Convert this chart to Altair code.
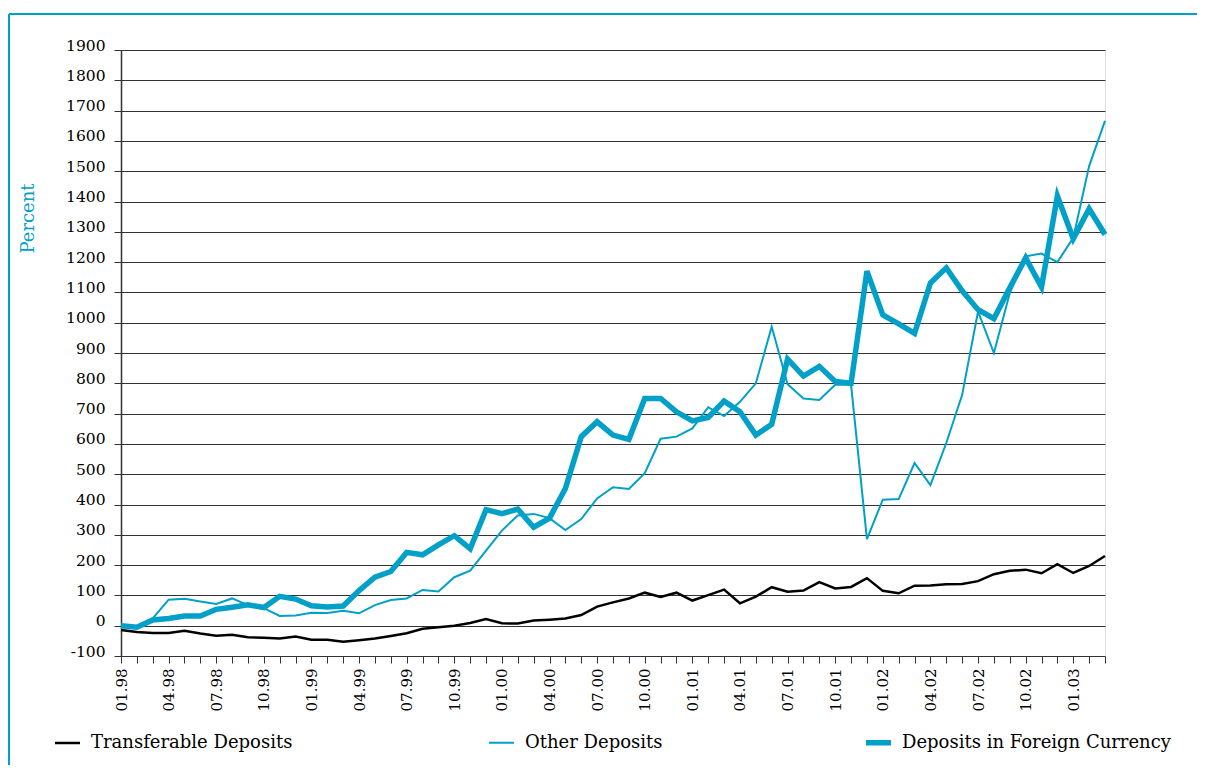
import altair as alt
import pandas as pd

CYAN = "#00A0C8"

months = [f"{m:02d}.{y:02d}" for y in [98, 99, 0, 1, 2, 3] for m in range(1, 13)][:63]

series_names = ["Transferable Deposits", "Other Deposits", "Deposits in Foreign Currency"]

transferable = [-14, -21, -24, -24, -17, -26, -33, -30, -38, -40, -42, -36, -46, -46, -53, -48,
                -42, -34, -25, -10, -5, 0, 9, 22, 8, 7, 17, 20, 24, 35, 63, 77, 90, 109, 95, 109,
                83, 101, 119, 74, 96, 127, 112, 116, 144, 123, 128, 157, 115, 107, 132, 133, 137,
                138, 147, 170, 181, 185, 173, 203, 174, 197, 230]

other = [2, -3, 24, 86, 89, 80, 72, 90, 68, 58, 32, 34, 43, 42, 49, 41, 68, 85, 90, 118, 113,
         160, 182, 248, 314, 364, 369, 355, 316, 352, 420, 457, 451, 503, 617, 624, 651, 721,
         692, 739, 800, 987, 797, 750, 745, 795, 795, 286, 416, 418, 537, 464, 603, 762, 1037,
         900, 1098, 1219, 1228, 1200, 1280, 1517, 1666]

foreign = [0, -5, 19, 24, 32, 32, 54, 61, 69, 60, 97, 88, 66, 62, 65, 116, 160, 179, 242, 234,
           267, 297, 254, 383, 370, 385, 325, 355, 453, 624, 673, 629, 615, 750, 750, 706, 676,
           687, 741, 706, 629, 665, 880, 824, 856, 806, 800, 1170, 1026, 996, 965, 1131, 1181,
           1105, 1043, 1013, 1115, 1214, 1118, 1418, 1277, 1376, 1291]

rows = []
for name, vals in zip(series_names, [transferable, other, foreign]):
    for i, (m, v) in enumerate(zip(months, vals)):
        rows.append({"series": name, "month": m, "idx": i, "value": v})
df = pd.DataFrame(rows)

FONT = "DejaVu Serif"

legend = alt.Legend(
    title=None, orient="none", legendX=-69, legendY=677, direction="horizontal",
    columns=3, columnPadding=192, symbolType="stroke", symbolSize=625,
    labelFont=FONT, labelFontSize=18, labelColor="black", labelLimit=500, labelOffset=8,
)

lines = alt.Chart(df).mark_line(strokeJoin="miter").encode(
    x=alt.X("month:N", sort=months, scale=alt.Scale(type="point", padding=0),
            axis=alt.Axis(title=None, labelAngle=270, labelFont=FONT, labelFontSize=15,
                          labelColor="black", tickSize=7, tickColor="#333", labelPadding=5,
                          domain=False, grid=False, labelOverlap=False,
                          labelExpr="indexof(['01','04','07','10'], substring(datum.value,0,2)) >= 0 ? datum.value : ''")),
    y=alt.Y("value:Q", scale=alt.Scale(domain=[-100, 1900], nice=False, zero=False),
            axis=alt.Axis(values=list(range(-100, 2000, 100)), title="Percent",
                          labelExpr="'' + datum.value",
                          titleFont=FONT, titleFontSize=18, titleFontWeight="normal",
                          titleColor=CYAN, titleX=-93, titleY=168, titleAngle=270,
                          titleAlign="center", titleBaseline="middle",
                          labelFont=FONT, labelFontSize=15.5, labelColor="black",
                          labelBaseline="alphabetic", labelPadding=9, tickSize=7,
                          tickColor="#333", gridColor="#333", gridOpacity=1,
                          domainColor="#333", domainWidth=1.5)),
    color=alt.Color("series:O", sort=series_names,
                    scale=alt.Scale(type="ordinal", domain=series_names, range=["#000000", CYAN, CYAN]),
                    legend=legend),
    strokeWidth=alt.StrokeWidth("series:O", sort=series_names,
                                scale=alt.Scale(type="ordinal", domain=series_names, range=[2.5, 2, 5.5]),
                                legend=legend),
    order=alt.Order("idx:Q"),
)

frame_df = pd.DataFrame({"a": [0]})
frame_left = alt.Chart(frame_df).mark_rule(color=CYAN, strokeWidth=2).encode(
    x=alt.value(-112), y=alt.value(-36), y2=alt.value(760))
frame_top = alt.Chart(frame_df).mark_rule(color=CYAN, strokeWidth=2).encode(
    x=alt.value(-112), x2=alt.value(1100), y=alt.value(-36))

chart = alt.layer(lines, frame_left, frame_top).properties(
    width=984, height=606,
    padding={"left": 113, "top": 42, "right": 92, "bottom": 109},
    autosize=alt.AutoSizeParams(type="none"),
).configure_view(stroke="#333", strokeWidth=1).configure(background="white")

chart.save("out.html", embed_options={"renderer": "svg", "actions": False})
